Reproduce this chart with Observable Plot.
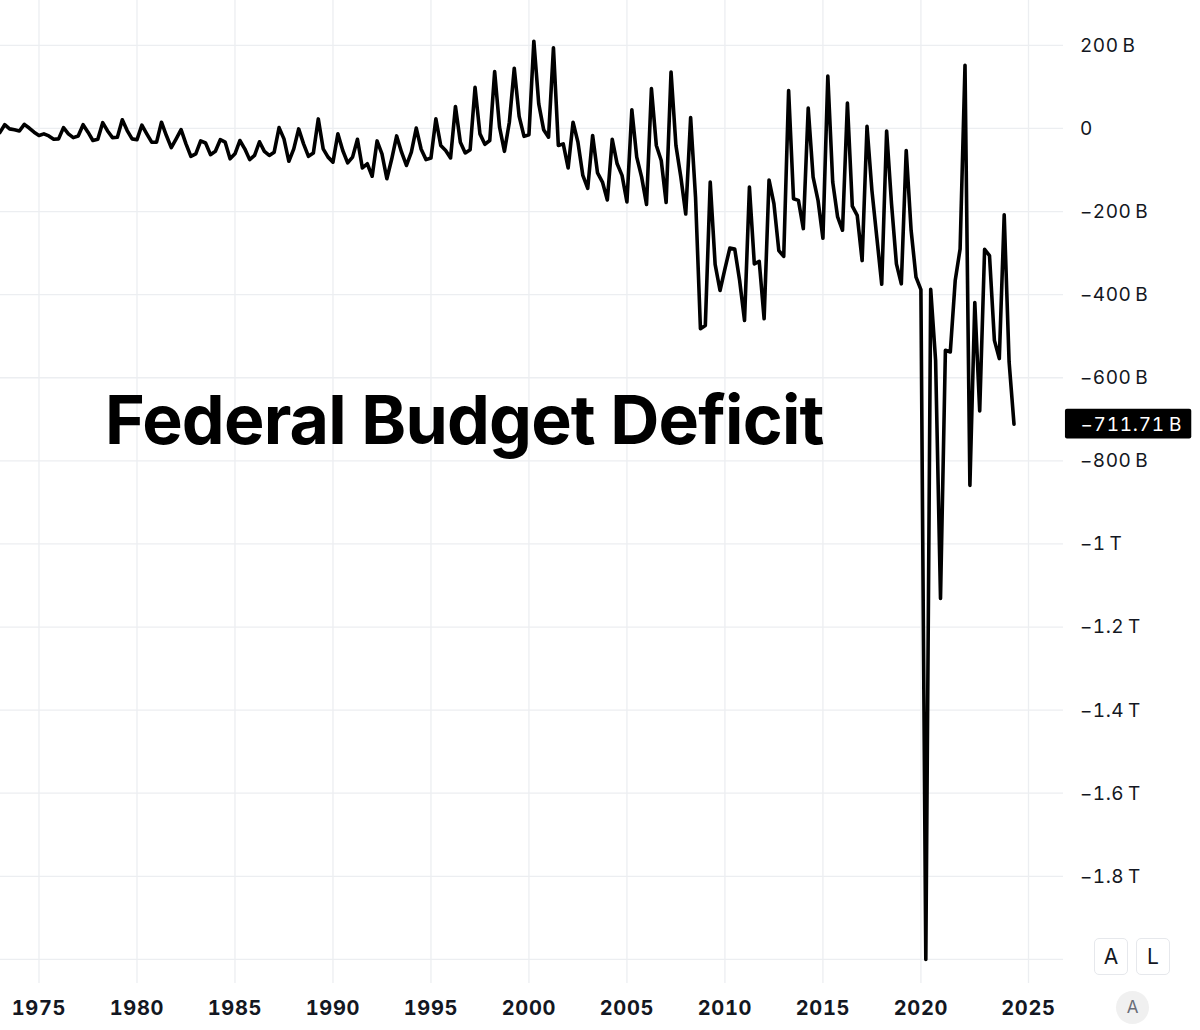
<!DOCTYPE html>
<html>
<head>
<meta charset="utf-8">
<title>Federal Budget Deficit</title>
<script src="https://cdn.jsdelivr.net/npm/d3@7"></script>
<script src="https://cdn.jsdelivr.net/npm/@observablehq/plot@0.6"></script>
<style>
  html, body { margin: 0; background: #fff; }
  #chart { position: relative; width: 1200px; height: 1030px; overflow: hidden; font-family: Inter, sans-serif; }
  #chart svg { display: block; }
  #chart svg text { font-variant-numeric: tabular-nums; font-feature-settings: "tnum"; }
  g[aria-label="x-axis tick label"] text { letter-spacing: 0.7px; }
  g[aria-label="y-axis tick label"] text { letter-spacing: 0.5px; }
  g[aria-label="text"] text { letter-spacing: 0.75px; }
  .title { position: absolute; left: 105px; top: 375px; font-size: 68px; font-weight: 700; color: #000; white-space: nowrap; line-height: 88px; letter-spacing: -0.8px; }
  .btn { position: absolute; top: 938px; width: 32px; height: 35px; border: 1.5px solid #e6e8ec; border-radius: 5px; font-size: 21px; line-height: 35px; text-align: center; color: #131722; }
  .round { position: absolute; left: 1116px; top: 991px; width: 33px; height: 33px; border-radius: 50%; background: #f0f0f0; color: #6a6d78; font-size: 17px; line-height: 33px; text-align: center; }
</style>
</head>
<body>
<div id="chart">
  <div class="title">Federal Budget Deficit</div>
  <div class="btn" style="left:1094px">A</div>
  <div class="btn" style="left:1136px">L</div>
  <div class="round">A</div>
</div>
<script>
  // quarterly deficit in billions, one row per year, first row is 1973
  const firstYear = 1973;
  const deficit = [
    -10, 9, -1, -3,
    -6, 10, 1, -9,
    -17, -13, -18, -26,
    -25, 2, -13, -22,
    -18, 9, -9, -29,
    -26, 14, -6, -22,
    -21, 21, -5, -25,
    -27, 8, -13, -33,
    -33, 15, -17, -46,
    -25, -3, -37, -67,
    -61, -30, -35, -63,
    -55, -27, -33, -73,
    -61, -29, -49, -75,
    -65, -32, -55, -65,
    -57, 2, -25, -79,
    -49, -1, -37, -67,
    -59, 23, -49, -69,
    -81, -13, -53, -83,
    -69, -26, -95, -85,
    -115, -30, -61, -121,
    -73, -18, -57, -89,
    -57, 1, -50, -75,
    -71, 23, -41, -53,
    -71, 53, -33, -59,
    -51, 99, -13, -38,
    -29, 137, 3, -55,
    15, 145, 29, -19,
    -15, 210, 59, -3,
    -21, 194, -41, -37,
    -95, 15, -33, -113,
    -144, -17, -107, -129,
    -172, -26, -85, -113,
    -177, 45, -69, -117,
    -183, 96, -41, -77,
    -178, 136, -41, -117,
    -206, 26, -165, -482,
    -474, -129, -327, -390,
    -338, -288, -290, -366,
    -462, -141, -326, -320,
    -458, -124, -181, -294,
    -308, 91, -169, -173,
    -241, 49, -117, -173,
    -264, 126, -129, -213,
    -245, 61, -187, -209,
    -318, 5, -149, -262,
    -375, -6, -181, -326,
    -374, -53, -245, -358,
    -388, -2000, -387, -558,
    -1131, -534, -538, -366,
    -290, 152, -859, -419,
    -680, -291, -306, -510,
    -554, -208, -562, -711.71
  ];

  const xTicks = [1975, 1980, 1985, 1990, 1995, 2000, 2005, 2010, 2015, 2020, 2025];
  const yGrid = [200, 0, -200, -400, -600, -800, -1000, -1200, -1400, -1600, -1800, -2000];
  const yTicks = [200, 0, -200, -400, -600, -800, -1000, -1200, -1400, -1600, -1800];
  const yLabels = ["200\u2009B", "0", "\u2212200\u2009B", "\u2212400\u2009B", "\u2212600\u2009B", "\u2212800\u2009B",
    "\u22121\u2009T", "\u22121.2\u2009T", "\u22121.4\u2009T", "\u22121.6\u2009T", "\u22121.8\u2009T"];
  const lastLabel = "\u2212711.71\u2009B";

  const table = deficit.map((value, i) => ({ year: firstYear + i / 4, value }));
  const last = table[table.length - 1];

  const gridColor = "#eceef1";
  const ink = "#131722";
  const scaleEnd = 2026.79;  // right edge of the pane
  const badgeStart = 2026.89;
  const badgeEnd = 2033.35;

  const chart = Plot.plot({
    width: 1200,
    height: 1030,
    marginLeft: 0,
    marginRight: 137,
    marginTop: 0,
    marginBottom: 47,
    style: { fontFamily: "Inter, sans-serif", background: "#fff" },
    // the 2025 label sits past the last bar, further than the even spacing before it
    x: { type: "linear", domain: [firstYear, last.year, 2025, scaleEnd], range: [-0.7, 1013.5, 1028, 1063] },
    y: { type: "linear", domain: [308, -2058], range: [0, 983] },
    marks: [
      Plot.ruleX(xTicks, { stroke: gridColor, strokeWidth: 1.3 }),
      Plot.ruleY(yGrid, { stroke: gridColor, strokeWidth: 1.3 }),
      Plot.axisX(xTicks, {
        anchor: "bottom", tickSize: 0, tickPadding: 17, label: null, tickFormat: d3.format("d"),
        fontSize: 20, fontWeight: 700, fill: ink
      }),
      Plot.axisY(yTicks, {
        anchor: "right", tickSize: 0, tickPadding: 16.5, label: null, dy: 0.3,
        tickFormat: d => yLabels[yTicks.indexOf(d)],
        fontSize: 19, fill: ink
      }),
      Plot.line(table, { x: "year", y: "value", stroke: "#000", strokeWidth: 3.6, strokeLinejoin: "round" }),
      Plot.rect([last], {
        x1: badgeStart, x2: badgeEnd, y1: d => d.value - 36, y2: d => d.value + 36,
        fill: "#000", rx: 2
      }),
      Plot.text([last], {
        x: scaleEnd, y: "value", dx: 17, dy: 0.5, text: () => lastLabel, textAnchor: "start",
        fontSize: 19, fill: "#fff"
      })
    ]
  });

  document.getElementById("chart").prepend(chart);
</script>
</body>
</html>
